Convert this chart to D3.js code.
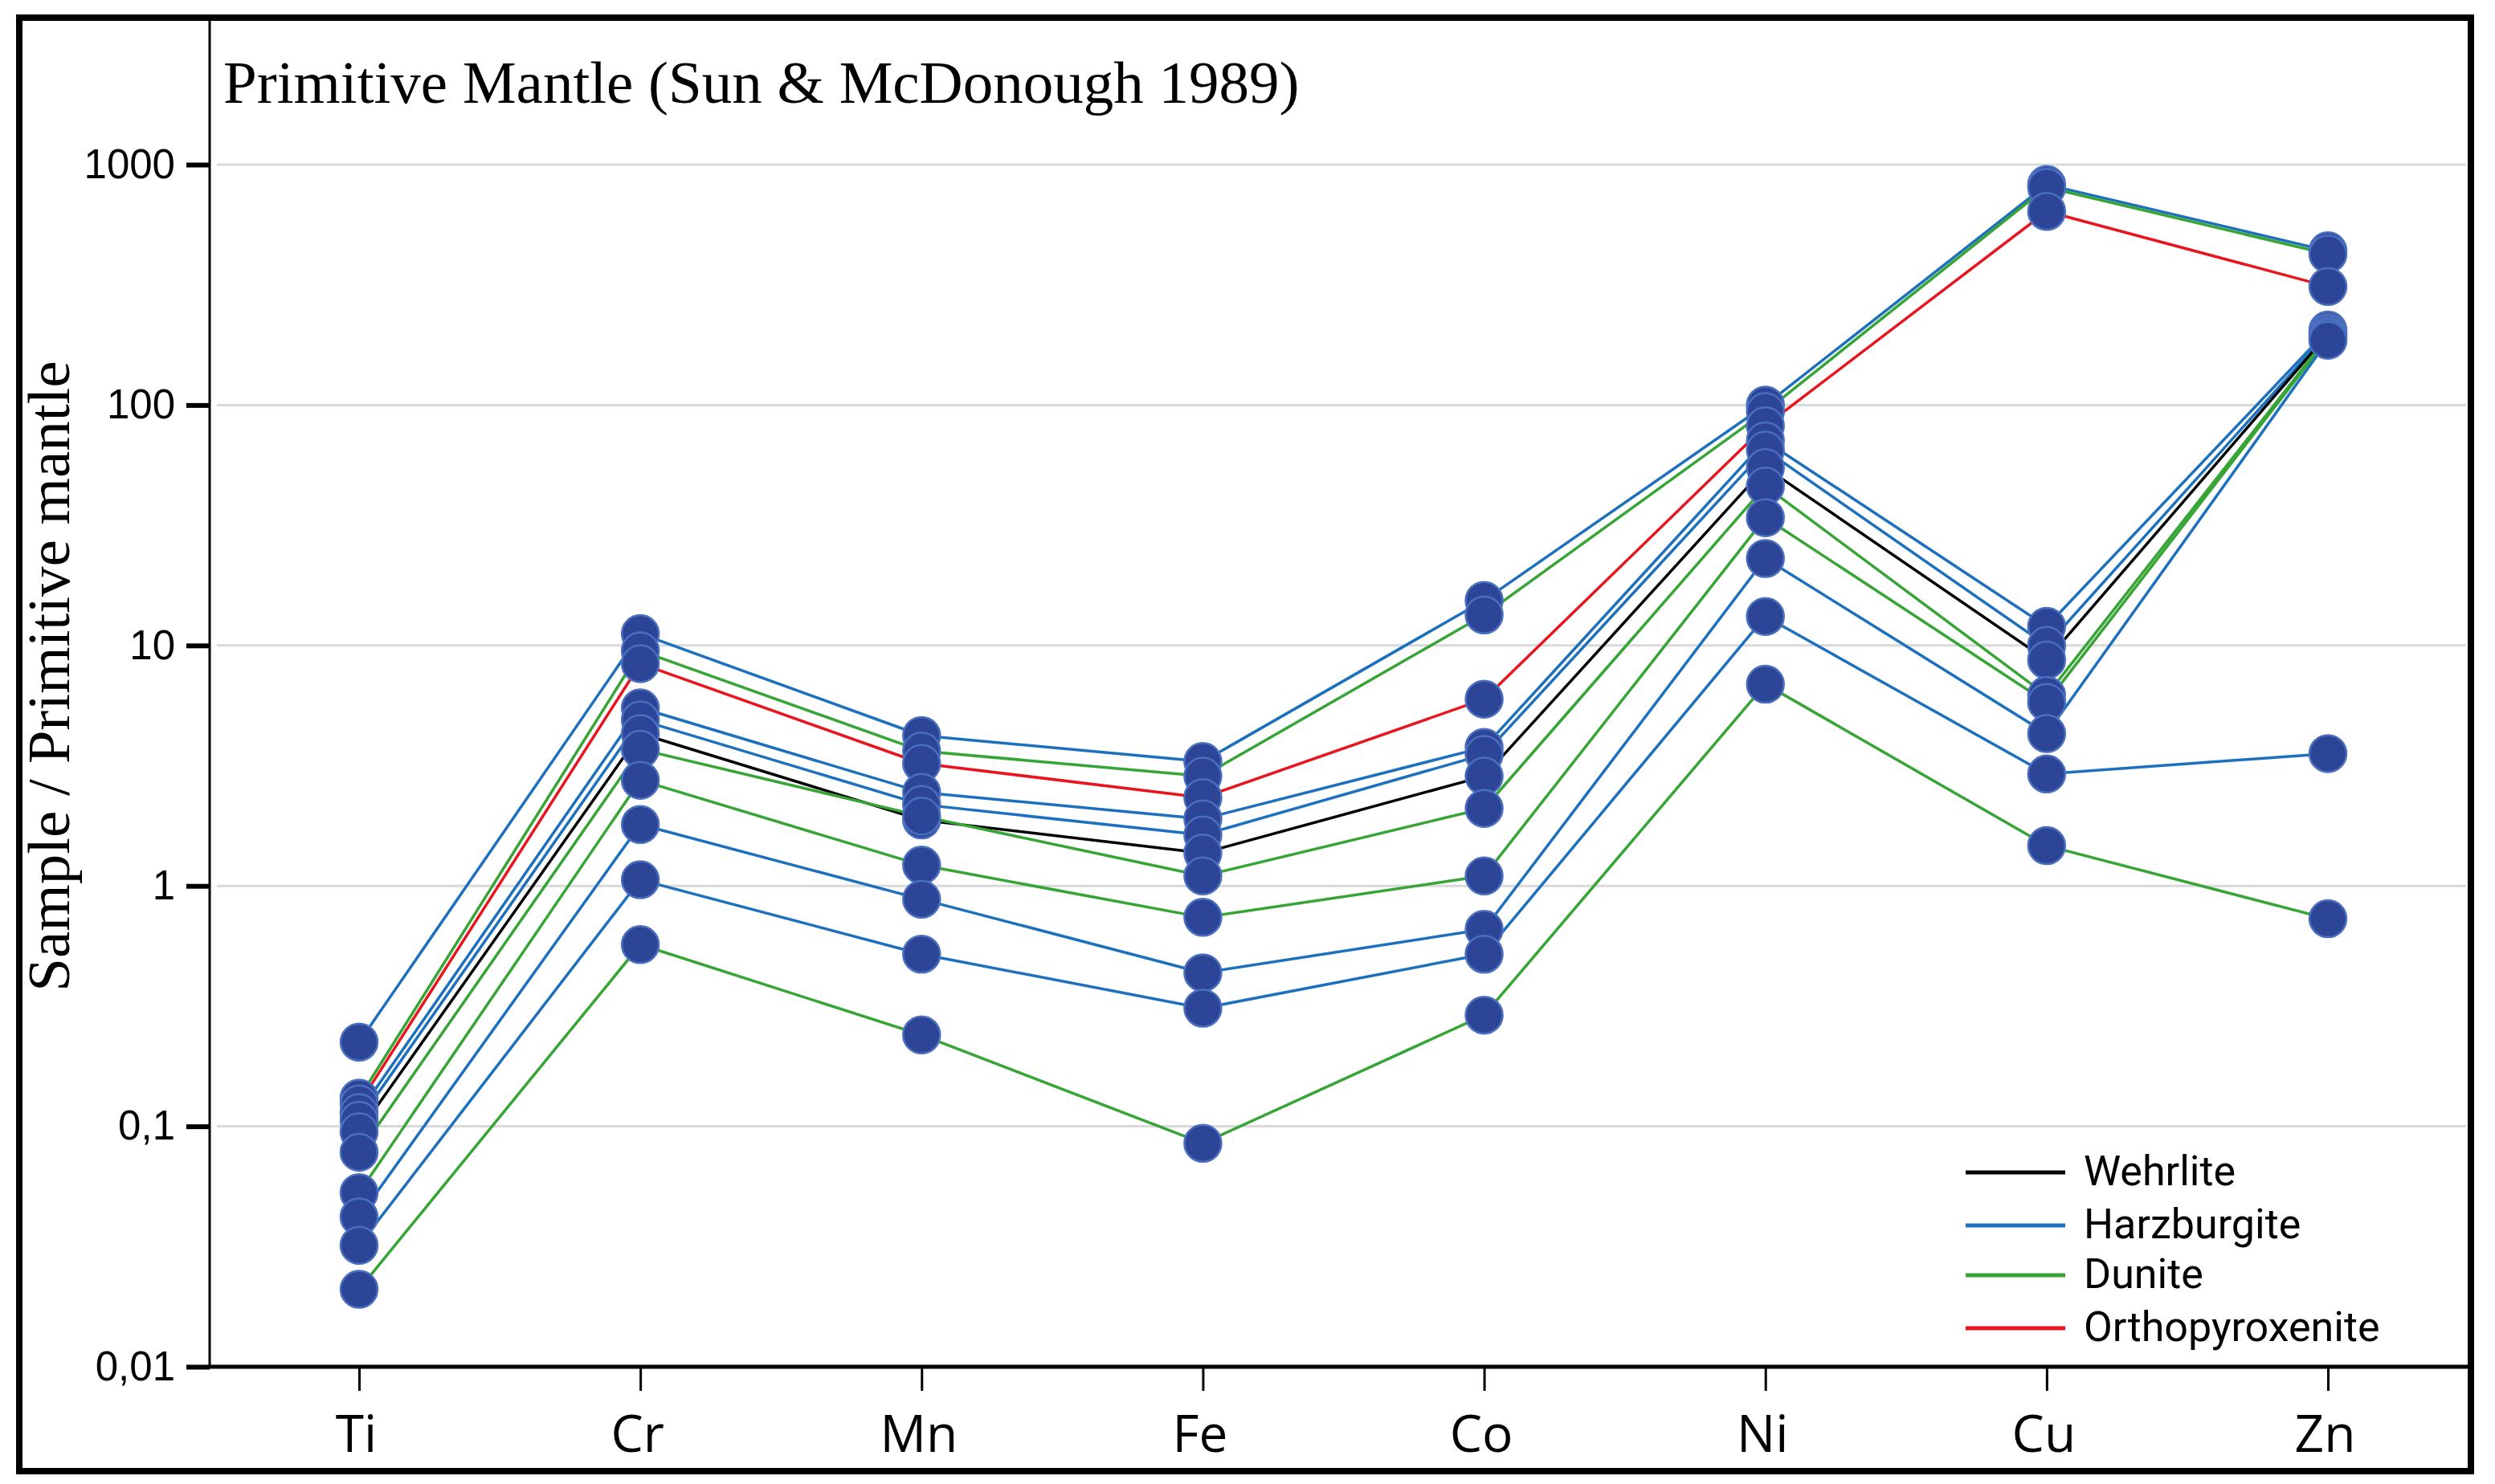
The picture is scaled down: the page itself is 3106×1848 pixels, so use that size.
<!DOCTYPE html>
<html>
<head>
<meta charset="utf-8">
<script src="https://cdn.jsdelivr.net/npm/d3@7"></script>
<style>
  html, body { margin: 0; padding: 0; background: #fff; }
  svg { display: block; }
</style>
</head>
<body>
<svg id="grafico" width="3106" height="1848"></svg>
<script>
// elementos y etiquetas
const elementos = ['Ti', 'Cr', 'Mn', 'Fe', 'Co', 'Ni', 'Cu', 'Zn'];
const ticksY = [0.01, 0.1, 1, 10, 100, 1000];
const etiquetasY = ['0,01', '0,1', '1', '10', '100', '1000'];
const litologias = ['Wehrlite', 'Harzburgite', 'Dunite', 'Orthopyroxenite'];
const coloresLitologia = ['#000000', '#1c70bd', '#37a535', '#e8151f'];

// muestras normalizadas (Ti, Cr, Mn, Fe, Co, Ni, Cu, Zn)
const harzA  = [0.224, 11.2, 4.22, 3.29, 15.4, 100, 826, 438];
const dunA   = [0.131, 9.5, 3.64, 2.86, 13.4, 94, 805, 425];
const ortho  = [0.124, 8.4, 3.23, 2.33, 5.98, 82, 639, 311];
const harzB  = [0.114, 5.5, 2.45, 1.90, 3.77, 71, 12, 205];
const harzC  = [0.106, 4.9, 2.18, 1.63, 3.52, 65, 10, 200];
const wehr   = [0.095, 4.3, 1.88, 1.37, 2.86, 55, 8.7, 197];
const dunB   = [0.078, 3.7, 1.95, 1.10, 2.1, 46, 6.2, 193];
const dunC   = [0.053, 2.75, 1.22, 0.74, 1.1, 34, 5.8, 190];
const harzD  = [0.042, 1.8, 0.88, 0.435, 0.66, 23, 4.3, 186];
const harzE  = [0.032, 1.06, 0.52, 0.31, 0.52, 13.2, 2.92, 3.55];
const dunD   = [0.021, 0.57, 0.24, 0.085, 0.29, 6.9, 1.47, 0.73];

const muestras = [
  { tipo: 'Harzburgite', valores: harzA },
  { tipo: 'Dunite', valores: dunA },
  { tipo: 'Orthopyroxenite', valores: ortho },
  { tipo: 'Harzburgite', valores: harzB },
  { tipo: 'Harzburgite', valores: harzC },
  { tipo: 'Wehrlite', valores: wehr },
  { tipo: 'Dunite', valores: dunB },
  { tipo: 'Dunite', valores: dunC },
  { tipo: 'Harzburgite', valores: harzD },
  { tipo: 'Harzburgite', valores: harzE },
  { tipo: 'Dunite', valores: dunD }
];

const color = d3.scaleOrdinal().domain(litologias).range(coloresLitologia);

const svg = d3.select('#grafico');

const izq = 261, base = 1702, arriba = 26, der = 3074;

const x = d3.scalePoint().domain(elementos).range([447, 2898]);
const y = d3.scaleLog().domain([0.01, 1000]).range([1702, 205]);

svg.append('rect')
  .attr('width', 3106).attr('height', 1848)
  .attr('fill', '#fff');

// lineas de cuadricula
svg.append('g')
  .selectAll('line')
  .data(ticksY.filter(d => d > 0.01))
  .join('line')
  .attr('x1', izq + 9)
  .attr('x2', der - 4)
  .attr('y1', d => y(d))
  .attr('y2', d => y(d))
  .attr('stroke', '#d9d9d9')
  .attr('stroke-width', 3);

// eje Y
const ejeY = svg.append('g')
  .attr('transform', `translate(${izq},0)`)
  .call(d3.axisLeft(y)
    .tickValues(ticksY)
    .tickFormat((d, i) => etiquetasY[i])
    .tickSize(29)
    .tickPadding(14));
ejeY.select('.domain').remove();
ejeY.selectAll('.tick line').attr('stroke', '#000').attr('stroke-width', 6);
ejeY.selectAll('.tick text')
  .attr('fill', '#000')
  .style('font-family', '"Liberation Sans", Arial, sans-serif')
  .style('font-size', '51px');

// eje X
const ejeX = svg.append('g')
  .attr('transform', `translate(0,${base})`)
  .call(d3.axisBottom(x).tickSize(30).tickPadding(0));
ejeX.select('.domain').remove();
ejeX.selectAll('.tick line').attr('stroke', '#000').attr('stroke-width', 3);
ejeX.selectAll('.tick text')
  .attr('fill', '#000')
  .attr('x', -4)
  .attr('y', 106)
  .attr('dy', 0)
  .style('font-family', '"Open Sans", sans-serif')
  .style('font-size', '64px');

// lineas de los ejes
svg.append('line')
  .attr('x1', izq).attr('x2', izq)
  .attr('y1', arriba).attr('y2', base)
  .attr('stroke', '#000').attr('stroke-width', 3);
svg.append('line')
  .attr('x1', izq - 2).attr('x2', der)
  .attr('y1', base).attr('y2', base)
  .attr('stroke', '#000').attr('stroke-width', 5);

// series
const linea = d3.line()
  .x((d, i) => x(elementos[i]))
  .y(d => y(d));

svg.append('g')
  .selectAll('path')
  .data(muestras)
  .join('path')
  .attr('d', d => linea(d.valores))
  .attr('fill', 'none')
  .attr('stroke', d => color(d.tipo))
  .attr('stroke-width', 3.5)
  .attr('stroke-linejoin', 'round');

svg.append('g')
  .selectAll('g')
  .data(muestras)
  .join('g')
  .selectAll('circle')
  .data(d => d.valores.map((v, i) => ({ el: elementos[i], v })))
  .join('circle')
  .attr('cx', d => x(d.el))
  .attr('cy', d => y(d.v))
  .attr('r', 23)
  .attr('fill', '#2c4596')
  .attr('stroke', '#4b6fbf')
  .attr('stroke-width', 2.5);

// titulo
svg.append('text')
  .attr('x', 278)
  .attr('y', 128)
  .text('Primitive Mantle (Sun & McDonough 1989)')
  .style('font-family', '"Liberation Serif", "Times New Roman", serif')
  .style('font-size', '75px');

svg.append('text')
  .attr('transform', 'translate(86,842) rotate(-90)')
  .attr('text-anchor', 'middle')
  .text('Sample / Primitive mantle')
  .style('font-family', '"Liberation Serif", "Times New Roman", serif')
  .style('font-size', '75px');

// leyenda
const leyenda = svg.append('g').attr('transform', 'translate(2447,1460)');
const item = leyenda.selectAll('g')
  .data(litologias)
  .join('g')
  .attr('transform', (d, i) => `translate(0,${[0, 66, 128, 194][i]})`);
item.append('line')
  .attr('x1', 0).attr('x2', 124)
  .attr('stroke', d => color(d))
  .attr('stroke-width', 5);
item.append('text')
  .attr('x', 147)
  .attr('y', 16)
  .text(d => d)
  .style('font-family', 'Roboto, sans-serif')
  .style('font-size', '52px');

// marco exterior
svg.append('rect')
  .attr('x', 24).attr('y', 22)
  .attr('width', 3052).attr('height', 1810)
  .attr('fill', 'none')
  .attr('stroke', '#000')
  .attr('stroke-width', 8);
</script>
</body>
</html>
